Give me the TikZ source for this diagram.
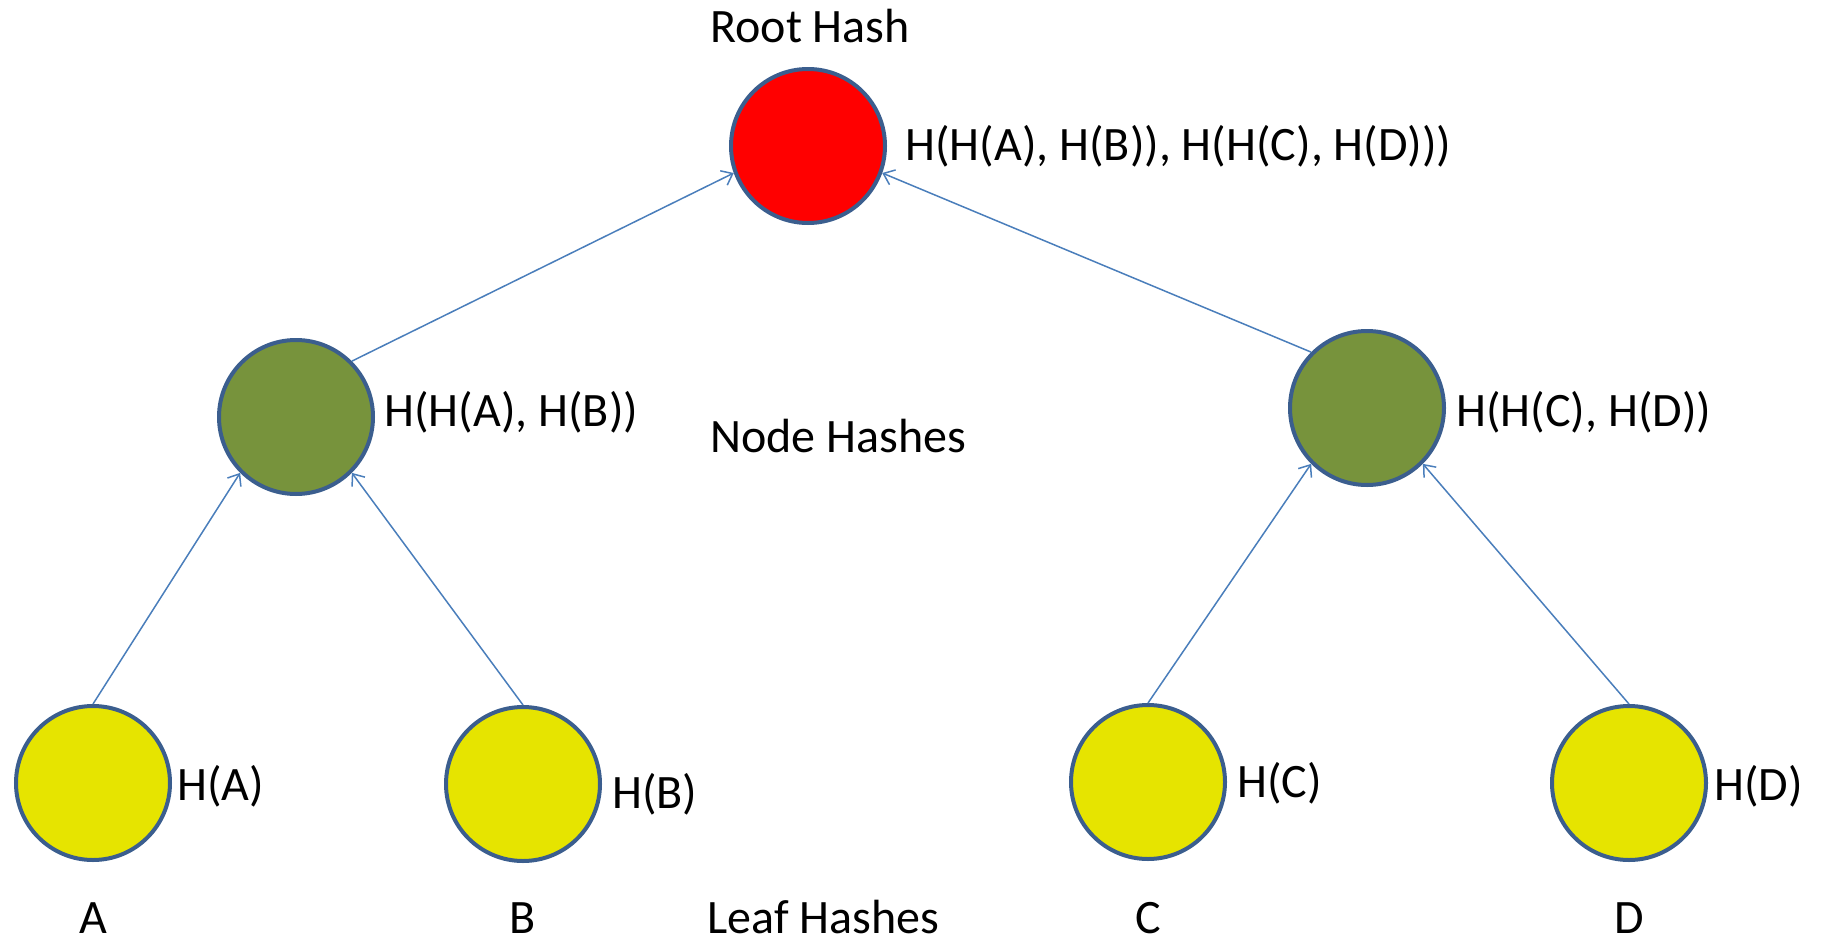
\documentclass[tikz,border=0pt]{standalone}
\usepackage{fontspec}
\setmainfont{Carlito}
\usetikzlibrary{arrows.meta}
\definecolor{rimblue}{HTML}{3B5E8E}
\definecolor{linkblue}{HTML}{4A7EBB}
\definecolor{rootred}{HTML}{FF0000}
\definecolor{midgreen}{HTML}{77933C}
\definecolor{leafyellow}{HTML}{E6E400}
\tikzset{
  hashnode/.style={circle, draw=rimblue, line width=2pt, minimum size=77pt, inner sep=0pt},
  rootnode/.style={hashnode, fill=rootred},
  midnode/.style={hashnode, fill=midgreen},
  leafnode/.style={hashnode, fill=leafyellow},
  txt/.style={font=\fontsize{24}{28}\selectfont, inner sep=0pt},
  lbl/.style={txt, anchor=west},
  link/.style={draw=linkblue, line width=0.75pt, -{Straight Barb[length=5pt,width=8pt,line width=0.75pt]}}
}
\begin{document}
\begin{tikzpicture}[x=0.5pt, y=-0.5pt]
\useasboundingbox (0,0) rectangle (1821,942);

% tree nodes
\node[rootnode] (root) at (808,146) {};
\node[midnode]  (nab)  at (296,417) {};
\node[midnode]  (ncd)  at (1367,408) {};
\node[leafnode] (la)   at (93,783) {};
\node[leafnode] (lb)   at (523,784) {};
\node[leafnode] (lc)   at (1148,782) {};
\node[leafnode] (ld)   at (1629,783) {};

% hash labels
\node[lbl] (troot) at (905,146) {H(H(A), H(B)), H(H(C), H(D)))};
\node[lbl] (tab)   at (384,412) {H(H(A), H(B))};
\node[lbl] (tcd)   at (1456,412) {H(H(C), H(D))};
\node[lbl] (ta)    at (177,786) {H(A)};
\node[lbl] (tb)    at (612,794) {H(B)};
\node[lbl] (tc)    at (1237,783) {H(C)};
\node[lbl] (td)    at (1714,786) {H(D)};

% level captions
\node[lbl] (caproot) at (710,26)  {Root Hash};
\node[lbl] (capnode) at (710,436) {Node Hashes};
\node[lbl] (capleaf) at (707,917) {Leaf Hashes};

% data blocks
\node[txt] (da) at (93,918)   {A};
\node[txt] (db) at (523,918)  {B};
\node[txt] (dc) at (1148,918) {C};
\node[txt] (dd) at (1629,918) {D};

% hash links
\draw[link] (la.north) -- (nab.south west);
\draw[link] (lb.north) -- (nab.south east);
\draw[link] (lc.north) -- (ncd.south west);
\draw[link] (ld.north) -- (ncd.south east);
\draw[link] (nab.north east) -- (root.200);
\draw[link] (ncd.north west) -- (root.-20);
\end{tikzpicture}
\end{document}
